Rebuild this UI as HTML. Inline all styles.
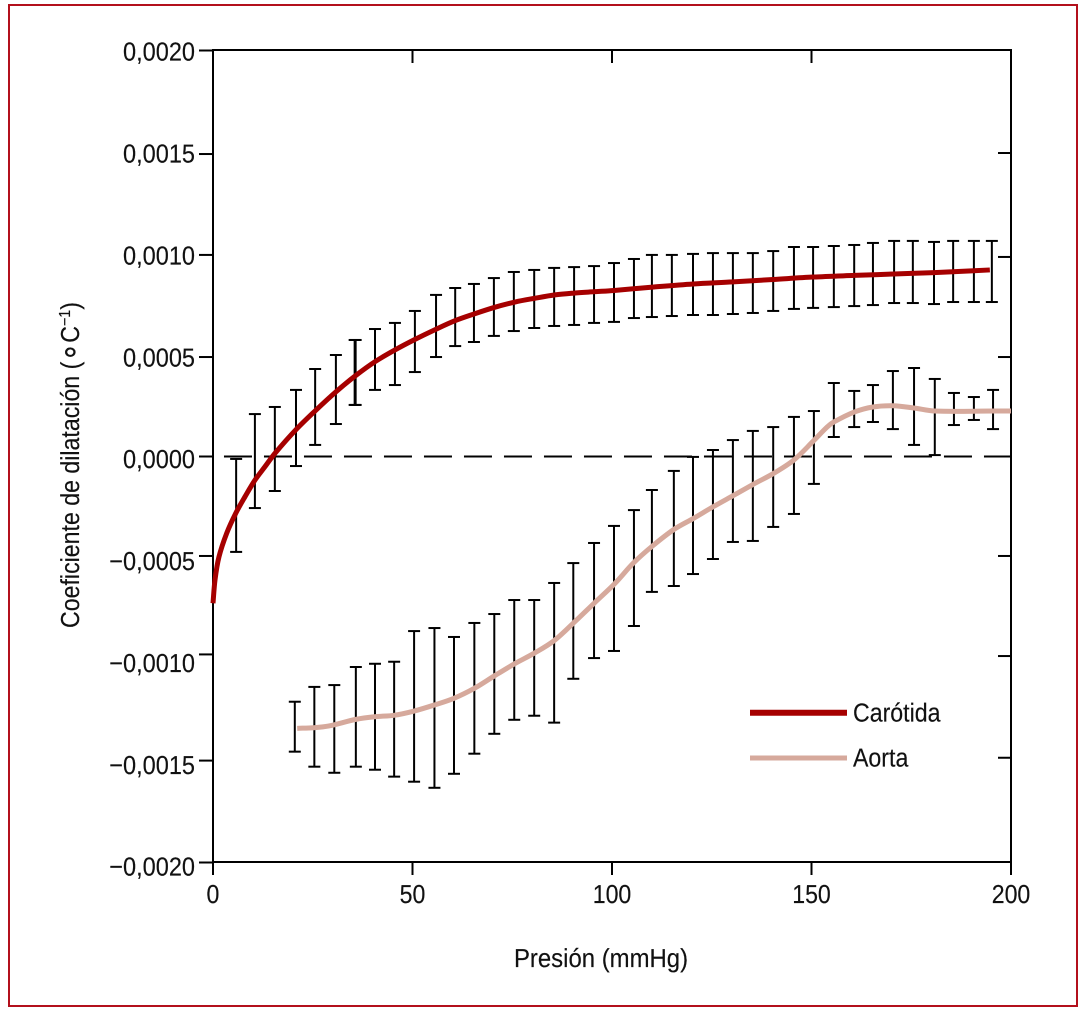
<!DOCTYPE html>
<html lang="es">
<head>
<meta charset="utf-8">
<title>Coeficiente de dilatación frente a presión</title>
<style>
html,body{margin:0;padding:0;background:#fff;}
svg{display:block;}
text{font-family:"Liberation Sans","DejaVu Sans",sans-serif;font-size:26px;fill:#111;stroke:#111;stroke-width:.15px;text-rendering:geometricPrecision;}
</style>
</head>
<body>
<svg id="chart" xmlns="http://www.w3.org/2000/svg" width="1087" height="1011" viewBox="0 0 1087 1011">
  <rect x="0" y="0" width="1087" height="1011" fill="#fff"/>
  <rect x="9" y="5" width="1068" height="1001" fill="none" stroke="#b3101c" stroke-width="2"/>
  <g id="grid-zero"></g>
  <g id="error-carotid"></g>
  <g id="error-aorta"></g>
  <g id="axes"></g>
  <g id="series"></g>
  <g id="tick-labels"></g>
  <text transform="translate(601 967) scale(.92 1)" text-anchor="middle">Presión (mmHg)</text>
  <text transform="translate(79 465) rotate(-90) scale(.89 1)" text-anchor="middle">Coeficiente de dilatación (<tspan font-size="34" dy="2">∘</tspan><tspan dy="-2">C</tspan><tspan font-size="16" dy="-9">−1</tspan><tspan dy="9">)</tspan></text>
  <g>
    <g>
      <line x1="750" x2="847" y1="712.7" y2="712.7" stroke="#a60000" stroke-width="6"/>
      <text transform="translate(853 721.7) scale(.89 1)">Carótida</text>
    </g>
    <g>
      <line x1="750" x2="847" y1="758" y2="758" stroke="#d6a99c" stroke-width="5"/>
      <text transform="translate(853 766.7) scale(.89 1)">Aorta</text>
    </g>
  </g>
</svg>
<script>
// All coefficient values are in units of 0.0001 °C⁻¹
var xTicks = [0, 50, 100, 150, 200];
var xTickLabels = ['0', '50', '100', '150', '200'];
var yLabelValues = [20, 15, 10, 5, 0, -5, -10, -15, -20];
var yTickLabels = ['0,0020', '0,0015', '0,0010', '0,0005', '0,0000', '−0,0005', '−0,0010', '−0,0015', '−0,0020'];
// Tick marks as printed in the figure (slightly uneven in the source)
var yTicksLeft = [20, 14.9, 9.93, 4.9, 0, -4.9, -9.75, -14.98, -20];
var yTicksRight = [14.95, 9.83, 4.9, -4.9, -9.83, -14.84];

var carotidBarPressure = [5.8,10.5,15.5,20.8,25.6,30.8,35.5,35.75,40.6,45.6,50.6,55.9,60.7,65.4,70.4,75.4,80.5,85.5,90.5,95.5,100.5,105.5,110,115,120.3,125.3,130.3,135.3,140.4,145.6,150.4,155.6,160.7,165.4,170.7,175.4,180.7,185.5,190.7,195.2];
var carotidUpper = [-0.12,2.09,2.44,3.28,4.31,5.0,5.74,5.74,6.28,6.58,7.17,7.96,8.3,8.5,8.79,9.09,9.19,9.29,9.33,9.38,9.53,9.73,9.93,9.93,9.98,10.02,10.02,10.02,10.12,10.32,10.32,10.37,10.42,10.52,10.62,10.62,10.57,10.62,10.62,10.62];
var carotidLower = [-4.70,-2.54,-1.70,-0.47,0.57,1.6,2.54,2.54,3.28,3.52,4.16,4.9,5.44,5.64,5.94,6.18,6.33,6.43,6.48,6.58,6.63,6.82,6.87,6.92,6.97,6.97,7.02,7.07,7.17,7.27,7.32,7.36,7.41,7.46,7.56,7.56,7.51,7.61,7.61,7.61];

var aortaBarPressure = [20.5,25.4,30.4,35.8,40.6,45.4,50.4,55.5,60.4,65.5,70.5,75.5,80.5,85.5,90.3,95.5,100.5,105.5,110,115.5,120.3,125.3,130.3,135.3,140.4,145.6,150.6,155.6,160.7,165.4,170.4,175.7,180.9,185.7,190.7,195.5];
var aortaUpper = [-12.08,-11.35,-11.26,-10.37,-10.21,-10.11,-8.60,-8.45,-8.89,-8.20,-7.76,-7.07,-7.07,-6.23,-5.25,-4.26,-3.42,-2.64,-1.65,-0.71,-0.02,0.32,0.81,1.26,1.45,1.95,2.24,3.62,3.23,3.52,4.21,4.36,3.82,3.13,2.93,3.28];
var aortaLower = [-14.54,-15.28,-15.58,-15.28,-15.43,-15.77,-16.02,-16.32,-15.63,-14.64,-13.66,-12.97,-12.77,-13.11,-10.95,-9.93,-9.58,-8.35,-6.67,-6.38,-5.79,-5.05,-4.21,-4.16,-3.47,-2.83,-1.35,0.96,1.45,1.70,1.35,0.57,0.07,1.55,1.80,1.35];

var carotidPressure = [0,0.5,1.5,3.43,5.69,8.02,10.53,13.03,15.54,20.73,25.56,30.83,35.66,40.6,45.61,50.63,55.89,60.65,65.41,70.6,75.69,80.53,85.71,90.48,95.74,100.5,110.5,120.3,130.3,140.4,150.4,160.7,170.7,180.7,194.7];
var carotidCoef = [-7.23,-6.08,-4.94,-3.78,-2.80,-1.98,-1.16,-0.50,0.16,1.31,2.24,3.19,3.97,4.67,5.25,5.77,6.27,6.69,7.02,7.35,7.61,7.79,7.96,8.05,8.12,8.18,8.35,8.50,8.60,8.72,8.84,8.92,8.99,9.06,9.19];

var aortaPressure = [21.1,25.1,28.9,35.8,40.5,45.4,50.4,55.5,60.4,65.5,70.5,75.5,80.5,85.5,91.15,95.5,100.75,105.3,109.95,115.54,120.4,125.4,130.6,135.3,140.7,145.6,150.45,153.9,155.6,160.7,165.4,170.4,175.7,180.9,195.5,200];
var aortaCoef = [-13.39,-13.36,-13.28,-12.95,-12.82,-12.75,-12.54,-12.24,-11.91,-11.42,-10.81,-10.22,-9.69,-9.07,-8.05,-7.23,-6.25,-5.26,-4.44,-3.59,-3.05,-2.47,-1.90,-1.38,-0.81,-0.17,0.76,1.45,1.70,2.19,2.44,2.50,2.39,2.24,2.24,2.24];

var plotLeft = 213, plotRight = 1011, plotTop = 50, plotBottom = 862;
function xScale(p){ return plotLeft + (p - 0) * (plotRight - plotLeft) / 200; }
function yScale(v){ return 456.5 - v * (plotBottom - plotTop) / 40; }
function yLabelBaseline(v){ return 875.7 - (v + 20) * (875.7 - 60.7) / 40; }

var NS = 'http://www.w3.org/2000/svg';
function make(tag, parent){
  var el = document.createElementNS(NS, tag);
  parent.appendChild(el);
  return el;
}
function segment(parent, x1, y1, x2, y2){
  var l = make('line', parent);
  l.setAttribute('x1', x1); l.setAttribute('y1', y1);
  l.setAttribute('x2', x2); l.setAttribute('y2', y2);
  l.setAttribute('stroke', '#000');
  l.setAttribute('stroke-width', 2);
  return l;
}

// Zero reference line
var zeroGroup = document.getElementById('grid-zero');
var zeroLine = segment(zeroGroup, xScale(2.75), yScale(0), plotRight, yScale(0));
zeroLine.setAttribute('stroke-dasharray', '28 12');



// Axes and ticks
var axes = document.getElementById('axes');
var box = make('rect', axes);
box.setAttribute('x', plotLeft);
box.setAttribute('y', plotTop);
box.setAttribute('width', plotRight - plotLeft);
box.setAttribute('height', plotBottom - plotTop);
box.setAttribute('fill', 'none');
box.setAttribute('stroke', '#000');
box.setAttribute('stroke-width', 2);



var labels = document.getElementById('tick-labels');
yTicksLeft.forEach(function(v){
  var y = yScale(v);
  var left = segment(axes, plotLeft - 14, y, plotLeft, y);
  
  
});
yTicksRight.forEach(function(v){
  var y = yScale(v);
  var right = segment(axes, plotRight - 13, y, plotRight, y);
  
  
});
yLabelValues.forEach(function(v, i){
  var t = make('text', labels);
  t.setAttribute('transform', 'translate(195 ' + yLabelBaseline(v) + ') scale(.905 1)');
  t.setAttribute('text-anchor', 'end');
  t.textContent = yTickLabels[i];
  
  
});
xTicks.forEach(function(p, i){
  var x = xScale(p);
  var bottom = segment(axes, x, plotBottom, x, plotBottom + 13);
  
  
  if (p > 0 && p < 200) {
    var top = segment(axes, x, plotTop, x, plotTop + 13);
    
    
  }
  var t = make('text', labels);
  t.setAttribute('transform', 'translate(' + x + ' 903) scale(.89 1)');
  t.setAttribute('text-anchor', 'middle');
  t.textContent = xTickLabels[i];
  
  
});

// Error bars
function drawBars(groupId, pressures, upper, lower){
  var g = document.getElementById(groupId);
  pressures.forEach(function(p, i){
    var x = xScale(p), yu = yScale(upper[i]), yl = yScale(lower[i]);
    var stem = segment(g, x, yu, x, yl);
    
    
    var capTop = segment(g, x - 6, yu, x + 6, yu);
    
    
    var capBottom = segment(g, x - 6, yl, x + 6, yl);
    
    
  });
}
drawBars('error-carotid', carotidBarPressure, carotidUpper, carotidLower);
drawBars('error-aorta', aortaBarPressure, aortaUpper, aortaLower);

// Smooth curves through the data points
function smoothPath(xs, ys){
  var pts = xs.map(function(p, i){ return [xScale(p), yScale(ys[i])]; });
  function tangent(i){
    var a = pts[Math.max(i - 1, 0)], b = pts[Math.min(i + 1, pts.length - 1)];
    var dx = b[0] - a[0], dy = b[1] - a[1], len = Math.sqrt(dx * dx + dy * dy) || 1;
    return [dx / len, dy / len];
  }
  var d = 'M' + pts[0][0].toFixed(2) + ' ' + pts[0][1].toFixed(2);
  for (var i = 0; i < pts.length - 1; i++){
    var p0 = pts[i], p1 = pts[i + 1];
    var h = Math.sqrt(Math.pow(p1[0] - p0[0], 2) + Math.pow(p1[1] - p0[1], 2)) / 3;
    var t0 = tangent(i), t1 = tangent(i + 1);
    d += 'C' + (p0[0] + t0[0] * h).toFixed(2) + ' ' + (p0[1] + t0[1] * h).toFixed(2) + ' ' +
         (p1[0] - t1[0] * h).toFixed(2) + ' ' + (p1[1] - t1[1] * h).toFixed(2) + ' ' +
         p1[0].toFixed(2) + ' ' + p1[1].toFixed(2);
  }
  return d;
}
var seriesGroup = document.getElementById('series');

var aortaLine = make('path', seriesGroup);
aortaLine.setAttribute('d', smoothPath(aortaPressure, aortaCoef));
aortaLine.setAttribute('fill', 'none');
aortaLine.setAttribute('stroke', '#d6a99c');
aortaLine.setAttribute('stroke-width', 5);



var carotidLine = make('path', seriesGroup);
carotidLine.setAttribute('d', smoothPath(carotidPressure, carotidCoef));
carotidLine.setAttribute('fill', 'none');
carotidLine.setAttribute('stroke', '#a60000');
carotidLine.setAttribute('stroke-width', 5);


</script>
</body>
</html>
